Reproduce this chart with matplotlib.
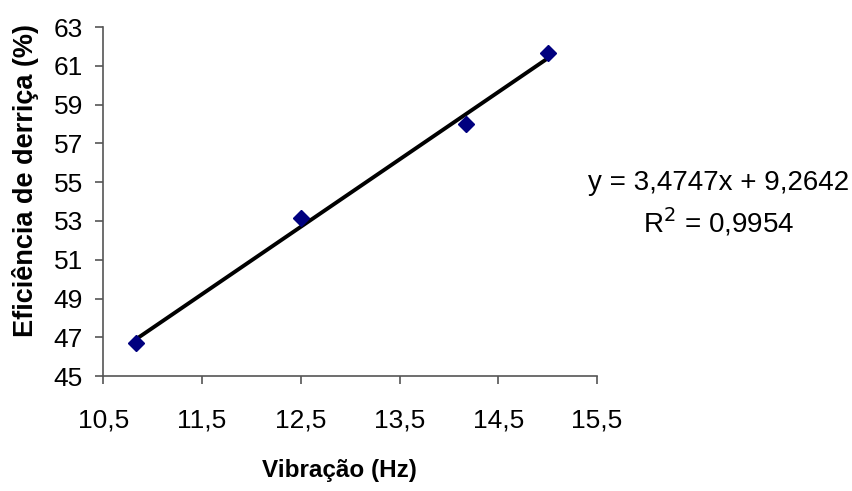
import numpy as np
import matplotlib.pyplot as plt

plt.rcParams['font.family'] = ['Liberation Sans', 'DejaVu Sans']

# measured points
vibracao = [10.83, 12.5, 14.17, 15.0]
eficiencia = [46.7, 53.15, 58.0, 61.65]

# Excel-style linear trendline
slope = 3.4747
intercept = 9.2642
r2 = 0.9954

x_ticks = [10.5, 11.5, 12.5, 13.5, 14.5, 15.5]
y_ticks = [45, 47, 49, 51, 53, 55, 57, 59, 61, 63]

fig = plt.figure(figsize=(8.53, 4.91), dpi=100)
ax = fig.add_axes([0.121, 0.234, 0.579, 0.711])

xs = np.array([min(vibracao), max(vibracao)])
ax.plot(xs, slope * xs + intercept, color='black', lw=2.8, zorder=2)
ax.plot(vibracao, eficiencia, 'D', color='#00007f', ms=8.5, zorder=3)

ax.set_xlim(10.5, 15.5)
ax.set_ylim(45, 63)
ax.set_xticks(x_ticks)
ax.set_yticks(y_ticks)
ax.set_xticklabels([f"{t:.1f}".replace('.', ',') for t in x_ticks])
ax.set_yticklabels([str(t) for t in y_ticks])

for side in ['top', 'right']:
    ax.spines[side].set_visible(False)
for side in ['left', 'bottom']:
    ax.spines[side].set_color('#555555')
    ax.spines[side].set_linewidth(1.2)
ax.tick_params(direction='out', length=6, width=1.2, color='#555555',
               labelsize=19, labelcolor='black')
ax.tick_params(axis='x', pad=17)
ax.tick_params(axis='y', pad=8.5)

ax.set_xlabel("Vibração (Hz)", fontsize=17.5, fontweight='bold')
ax.xaxis.set_label_coords(0.478, -0.237)
ax.set_ylabel("Eficiência de derriça (%)", fontsize=19.5, fontweight='bold')
ax.yaxis.set_label_coords(-0.13, 0.559)

fig.text(0.842, 0.627, f"y = {slope:.4f}x + {intercept:.4f}".replace('.', ','),
         ha='center', va='center', fontsize=20)
fig.text(0.842, 0.548, f"R$^2$ = {r2:.4f}".replace('.', ','),
         ha='center', va='center', fontsize=20)

fig.savefig('out.png', dpi=100)
